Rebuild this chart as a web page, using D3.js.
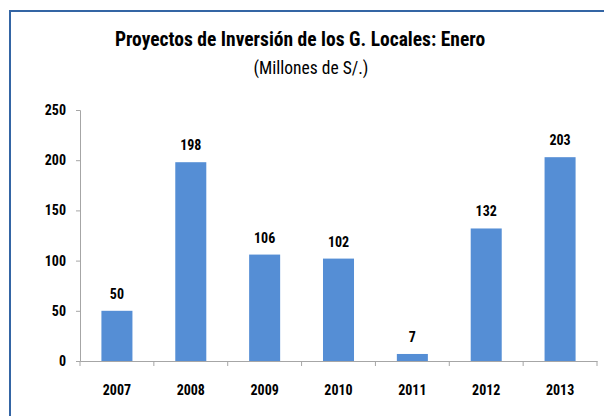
<!DOCTYPE html>
<html lang="es">
<head>
    <meta charset="UTF-8">
    <title>Proyectos de Inversión</title>
    <script src="https://d3js.org/d3.v7.min.js"></script>
    <style>
        body { margin: 0; background: #fff; }
        text { font-family: "Liberation Sans Narrow", "Roboto Condensed", Lato, sans-serif; fill: #000; }
    </style>
</head>
<body>
<svg id="chart"></svg>
<script>
// datos
var years = ["2007", "2008", "2009", "2010", "2011", "2012", "2013"];
var values = [50, 198, 106, 102, 7, 132, 203];
var yTicks = [0, 50, 100, 150, 200, 250];

var width = 604, height = 416;
var margin = {top: 110, right: 7, bottom: 55, left: 80};

var svg = d3.select("#chart")
    .attr("width", width)
    .attr("height", height);

// marco
svg.append("path")
    .attr("d", "M10," + height + "V11H" + width)
    .attr("fill", "none")
    .attr("stroke", "#3465a4")
    .attr("stroke-width", 2);

// titulo
svg.append("text")
    .attr("x", 300).attr("y", 46)
    .attr("text-anchor", "middle")
    .style("font-weight", "bold")
    .style("font-size", "19.5px")
    .text("Proyectos de Inversión de los G. Locales: Enero");
svg.append("text")
    .attr("x", 311).attr("y", 74)
    .attr("text-anchor", "middle")
    .style("font-size", "17.5px")
    .text("(Millones de S/.)");

var x = d3.scaleBand()
    .domain(years)
    .range([margin.left, width - margin.right])
    .paddingInner(0.58)
    .paddingOuter(0.29);

var y = d3.scaleLinear()
    .domain([0, 250])
    .range([height - margin.bottom, margin.top]);

var g = svg.append("g");

// barras
g.selectAll("rect")
    .data(values)
    .enter().append("rect")
    .attr("x", function(d, i) { return x(years[i]); })
    .attr("y", function(d) { return y(d); })
    .attr("width", x.bandwidth())
    .attr("height", function(d) { return y(0) - y(d); })
    .attr("fill", "#558ed5");

// etiquetas de valores
g.selectAll(".val")
    .data(values)
    .enter().append("text")
    .attr("class", "val")
    .attr("x", function(d, i) { return x(years[i]) + x.bandwidth() / 2; })
    .attr("y", function(d) { return y(d) - 12; })
    .attr("text-anchor", "middle")
    .style("font-weight", "bold")
    .style("font-size", "14px")
    .text(function(d) { return d; });

// eje y
var yAxis = svg.append("g")
    .attr("transform", "translate(" + margin.left + ",0)")
    .call(d3.axisLeft(y).tickValues(yTicks).tickSize(4).tickPadding(10));
yAxis.select(".domain").attr("stroke", "#a6a6a6");
yAxis.selectAll(".tick line").attr("stroke", "#a6a6a6");
yAxis.selectAll("text")
    .style("font-weight", "bold")
    .style("font-size", "14px")
    .attr("fill", "#000");

// eje x
var xAxis = svg.append("g")
    .attr("transform", "translate(0," + y(0) + ")")
    .call(d3.axisBottom(x).tickSize(0).tickPadding(24));
xAxis.select(".domain").attr("stroke", "#a6a6a6");
xAxis.selectAll("text")
    .style("font-weight", "bold")
    .style("font-size", "14px")
    .attr("fill", "#000");

// marcas entre categorias
var step = x.step();
var bounds = d3.range(years.length + 1).map(function(i) { return margin.left + i * step; });
xAxis.selectAll(".sep")
    .data(bounds)
    .enter().append("line")
    .attr("class", "sep")
    .attr("x1", function(d) { return d; })
    .attr("x2", function(d) { return d; })
    .attr("y1", 0).attr("y2", 5)
    .attr("stroke", "#a6a6a6");
</script>
</body>
</html>
